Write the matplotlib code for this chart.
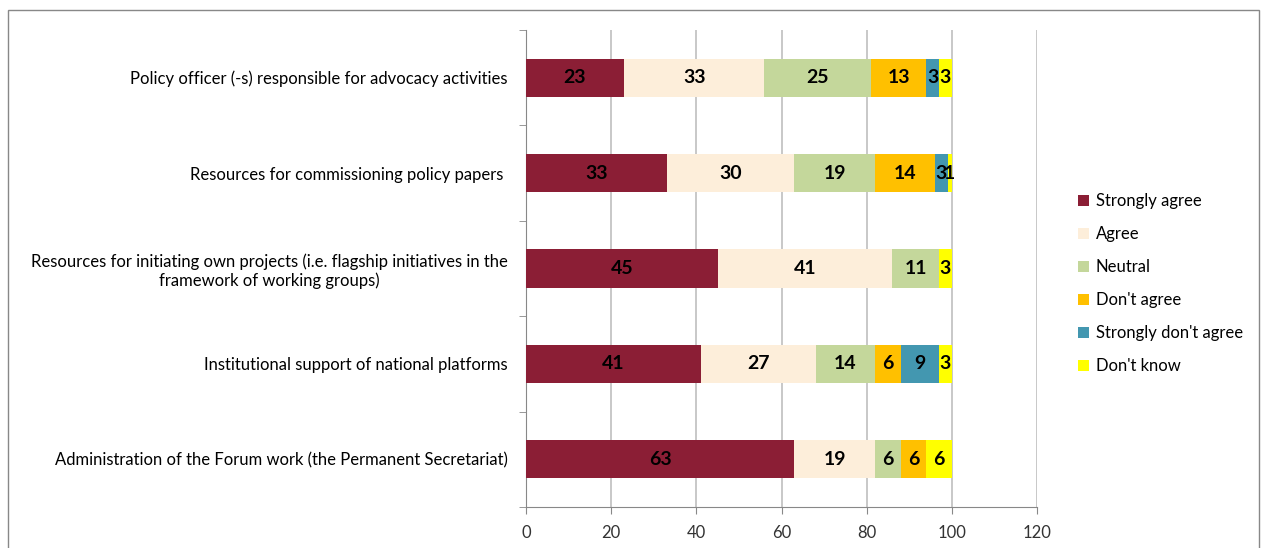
import numpy as np
import matplotlib
matplotlib.use("Agg")
import matplotlib.pyplot as plt
from matplotlib.patches import Rectangle

plt.rcParams['font.family'] = ['Lato', 'DejaVu Sans']

categories = [
    "Policy officer (-s) responsible for advocacy activities",
    "Resources for commissioning policy papers ",
    "Resources for initiating own projects (i.e. flagship initiatives in the\nframework of working groups)",
    "Institutional support of national platforms",
    "Administration of the Forum work (the Permanent Secretariat)",
]
series_names = ["Strongly agree", "Agree", "Neutral", "Don't agree",
                "Strongly don't agree", "Don't know"]
strongly_agree = [23, 33, 45, 41, 63]
agree = [33, 30, 41, 27, 19]
neutral = [25, 19, 11, 14, 6]
dont_agree = [13, 14, 0, 6, 6]
strongly_dont = [3, 3, 0, 9, 0]
dont_know = [3, 1, 3, 3, 6]
colors = ["#8B1E35", "#FDEEDA", "#C4D79B", "#FFC000", "#4397B0", "#FFFF00"]

values = [strongly_agree, agree, neutral, dont_agree, strongly_dont, dont_know]

fig = plt.figure(figsize=(12.63, 5.48), dpi=100)
ax = fig.add_axes([526/1263, 1-507/548, (1037-526)/1263, (507-30)/548])

y = np.arange(len(categories))
left = np.zeros(len(categories))
for name, vals, col in zip(series_names, values, colors):
    vals = np.array(vals, dtype=float)
    bars = ax.barh(y, vals, left=left, height=0.4, color=col, label=name, zorder=3)
    for b, v in zip(bars, vals):
        if v > 0:
            ax.text(b.get_x() + b.get_width()/2, b.get_y() + b.get_height()/2,
                    f"{int(v)}", ha='center', va='center', fontsize=14,
                    fontweight='bold', color='black', zorder=4)
    left += vals

ax.set_xlim(0, 120)
ax.set_ylim(len(categories) - 0.5, -0.5)
ax.set_xticks(np.arange(0, 121, 20))
ax.set_yticks(y)
ax.set_yticklabels(categories, fontsize=12, multialignment='center')
ax.set_yticks(np.arange(-0.5, len(categories), 1), minor=True)
ax.tick_params(axis='y', which='major', length=0, pad=13)
ax.tick_params(axis='y', which='minor', length=5, color='#888888', direction='out')
ax.tick_params(axis='x', length=5, color='#888888', labelsize=12, labelcolor='#333333', pad=8)
ax.grid(axis='x', color='#BFBFBF', linewidth=1.2, zorder=0)
ax.spines['top'].set_visible(False)
ax.spines['right'].set_visible(False)
ax.spines['left'].set_color('#888888')
ax.spines['bottom'].set_color('#888888')

ax.legend(loc='upper left', bbox_to_anchor=(1063/1263, 1-178/548),
          bbox_transform=fig.transFigure, frameon=False, fontsize=12,
          handlelength=0.65, handleheight=0.65, handletextpad=0.4,
          labelspacing=1.02)

fig.patches.append(Rectangle((8/1263, -0.1), (1259-8)/1263, 1.1 - 10/548,
                             transform=fig.transFigure, fill=False,
                             edgecolor='#888888', linewidth=1))

fig.savefig("out.png", dpi=100)
